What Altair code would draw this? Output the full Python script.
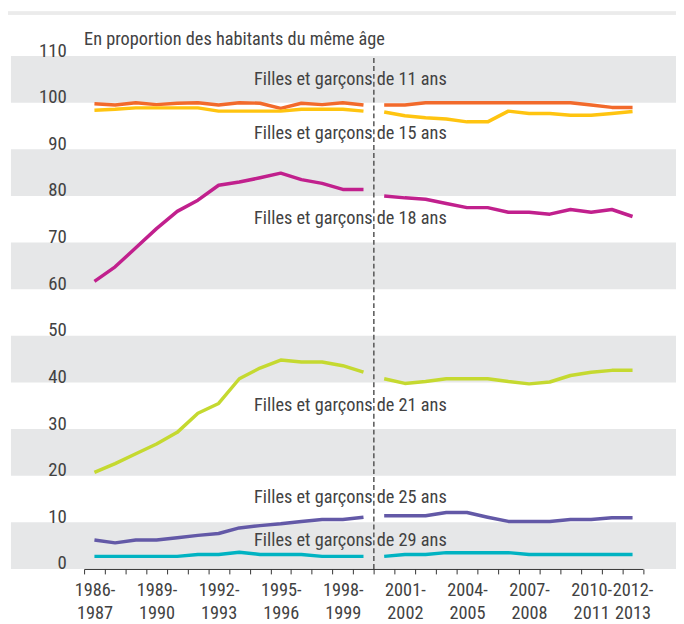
import altair as alt
import pandas as pd

FONT = "Liberation Sans Narrow, Roboto Condensed, DejaVu Sans Condensed, sans-serif"

years = ["1986-1987", "1987-1988", "1988-1989", "1989-1990", "1990-1991", "1991-1992",
         "1992-1993", "1993-1994", "1994-1995", "1995-1996", "1996-1997", "1997-1998",
         "1998-1999", "1999-2000", "2000-2001", "2001-2002", "2002-2003", "2003-2004",
         "2004-2005", "2005-2006", "2006-2007", "2007-2008", "2008-2009", "2009-2010",
         "2010-2011", "2011-2012", "2012-2013"]
shown_years = ["1986-1987", "1989-1990", "1992-1993", "1995-1996", "1998-1999",
               "2001-2002", "2004-2005", "2007-2008", "2010-2011", "2012-2013"]
break_year = "2000-2001"

series = ["11 ans", "15 ans", "18 ans", "21 ans", "25 ans", "29 ans"]
colors = ["#f26a2b", "#ffc410", "#c1208d", "#c5d930", "#6359a7", "#00b3c2"]

v11 = [99.8, 99.5, 100.0, 99.6, 99.9, 100.0, 99.5, 100.0, 99.9, 98.8, 99.9, 99.6, 100.0, 99.5,
       99.5, 99.5, 100.0, 100.0, 100.0, 100.0, 100.0, 100.0, 100.0, 100.0, 99.5, 99.0, 99.0]
v15 = [98.4, 98.6, 98.9, 98.9, 98.9, 98.9, 98.2, 98.2, 98.2, 98.2, 98.6, 98.6, 98.6, 98.2,
       98.0, 97.2, 96.8, 96.5, 95.9, 95.9, 98.2, 97.7, 97.7, 97.3, 97.3, 97.7, 98.1]
v18 = [61.7, 64.8, 68.9, 73.0, 76.7, 79.1, 82.3, 83.0, 83.9, 84.9, 83.5, 82.7, 81.4, 81.4,
       80.0, 79.6, 79.3, 78.4, 77.5, 77.5, 76.5, 76.5, 76.1, 77.1, 76.5, 77.1, 75.6]
v21 = [20.7, 22.6, 24.7, 26.8, 29.3, 33.4, 35.5, 40.8, 43.1, 44.8, 44.4, 44.4, 43.6, 42.2,
       40.8, 39.8, 40.2, 40.8, 40.8, 40.8, 40.2, 39.7, 40.1, 41.5, 42.2, 42.6, 42.6]
v25 = [6.2, 5.6, 6.2, 6.2, 6.7, 7.2, 7.6, 8.8, 9.3, 9.7, 10.2, 10.6, 10.6, 11.1,
       11.4, 11.4, 11.4, 12.1, 12.1, 11.1, 10.2, 10.2, 10.2, 10.6, 10.6, 11.0, 11.0]
v29 = [2.7, 2.7, 2.7, 2.7, 2.7, 3.1, 3.1, 3.6, 3.1, 3.1, 3.1, 2.7, 2.7, 2.7,
       2.7, 3.1, 3.1, 3.5, 3.5, 3.5, 3.5, 3.1, 3.1, 3.1, 3.1, 3.1, 3.1]
all_values = [v11, v15, v18, v21, v25, v29]

label_texts = ["Filles et garçons de 11 ans", "Filles et garçons de 15 ans",
               "Filles et garçons de 18 ans", "Filles et garçons de 21 ans",
               "Filles et garçons de 25 ans", "Filles et garçons de 29 ans"]
label_y = [105.1, 93.5, 75.3, 35.2, 15.4, 6.2]

band_lo = [0, 20, 40, 60, 80, 100]
band_hi = [10, 30, 50, 70, 90, 110]
y_ticks = [0, 10, 20, 30, 40, 50, 60, 70, 80, 90, 100, 110]

title_text = "En proportion des habitants du même âge"

# ---- tables ----
brk = years.index(break_year)
rows = []
for s, vals in zip(series, all_values):
    for i, (yr, v) in enumerate(zip(years, vals)):
        rows.append({"serie": s, "annee": yr, "valeur": v,
                     "seg": s + ("-a" if i < brk else "-b")})
df = pd.DataFrame(rows)
bands = pd.DataFrame({"lo": band_lo, "hi": band_hi})
labels = pd.DataFrame({"texte": label_texts, "y": label_y})
rule_df = pd.DataFrame({"annee": [break_year], "lo": [0], "hi": [110]})

W, H = 673, 519
TXT = "#424242"

shown_js = "[" + ",".join("'%s'" % s for s in shown_years) + "]"
label_expr = ("indexof(%s, datum.value) >= 0 ? [slice(datum.value, 0, 5), slice(datum.value, 5)] : ''"
              % shown_js)

xscale = alt.Scale(type="band", domain=years, range=[74, 639.5], paddingInner=0, paddingOuter=0)
yscale = alt.Scale(domain=[0, 110], nice=False, zero=False)

x_axis = alt.Axis(title=None, tickBand="extent", tickSize=5, tickColor="#333333",
                  domainColor="#333333", domainWidth=1, tickWidth=1, grid=False,
                  labelExpr=label_expr, labelAngle=0, labelFont=FONT, labelFontSize=18.5,
                  labelColor=TXT, labelPadding=7, labelLineHeight=23,
                  labelOverlap=False, labelBaseline="top", labelAlign="center", zindex=1)
y_axis = alt.Axis(title=None, values=y_ticks, ticks=False, tickSize=0, domain=False,
                  grid=False, labelPadding=-56, labelAlign="right",
                  labelBaseline="alphabetic", labelFont=FONT, labelFontSize=19,
                  labelColor=TXT, zindex=1)

band_layer = alt.Chart(bands).mark_rect(color="#e6e7e8").encode(
    x=alt.value(0), x2=alt.value(W),
    y=alt.Y("lo:Q", scale=yscale, axis=y_axis), y2="hi:Q")

strip = alt.Chart(bands).mark_rect(color="#ebebeb").encode(
    x=alt.value(-3), x2=alt.value(W), y=alt.value(-45), y2=alt.value(-42))

rule_layer = alt.Chart(rule_df).mark_rule(color="#555555", strokeWidth=1.5,
                                          strokeDash=[5, 3]).encode(
    x=alt.X("annee:N", scale=xscale, axis=x_axis, bandPosition=0),
    y=alt.Y("lo:Q", scale=yscale), y2="hi:Q")

line_layer = alt.Chart(df).mark_line(strokeWidth=3.5, strokeJoin="round").encode(
    x=alt.X("annee:N", scale=xscale, axis=x_axis, bandPosition=0.5),
    y=alt.Y("valeur:Q", scale=yscale),
    color=alt.Color("serie:N", scale=alt.Scale(domain=series, range=colors), legend=None),
    detail="seg:N")

text_layer = alt.Chart(labels).mark_text(align="left", baseline="middle", font=FONT,
                                         fontSize=18.5, color=TXT).encode(
    x=alt.value(246), y=alt.Y("y:Q", scale=yscale), text="texte:N")

title_layer = alt.Chart(pd.DataFrame({"t": [title_text]})).mark_text(
    align="left", baseline="alphabetic", font=FONT, fontSize=18.5, color=TXT).encode(
    x=alt.value(74), y=alt.value(-11), text="t:N")

chart = alt.layer(band_layer, strip, rule_layer, line_layer, text_layer, title_layer).properties(
    width=W, height=H,
    autosize=alt.AutoSizeParams(type="none"),
    padding={"left": 3, "top": 45, "right": 0, "bottom": 52},
    background="#ffffff",
).configure_view(stroke=None)

chart.save("out.html", embed_options={"renderer": "svg", "actions": False})
